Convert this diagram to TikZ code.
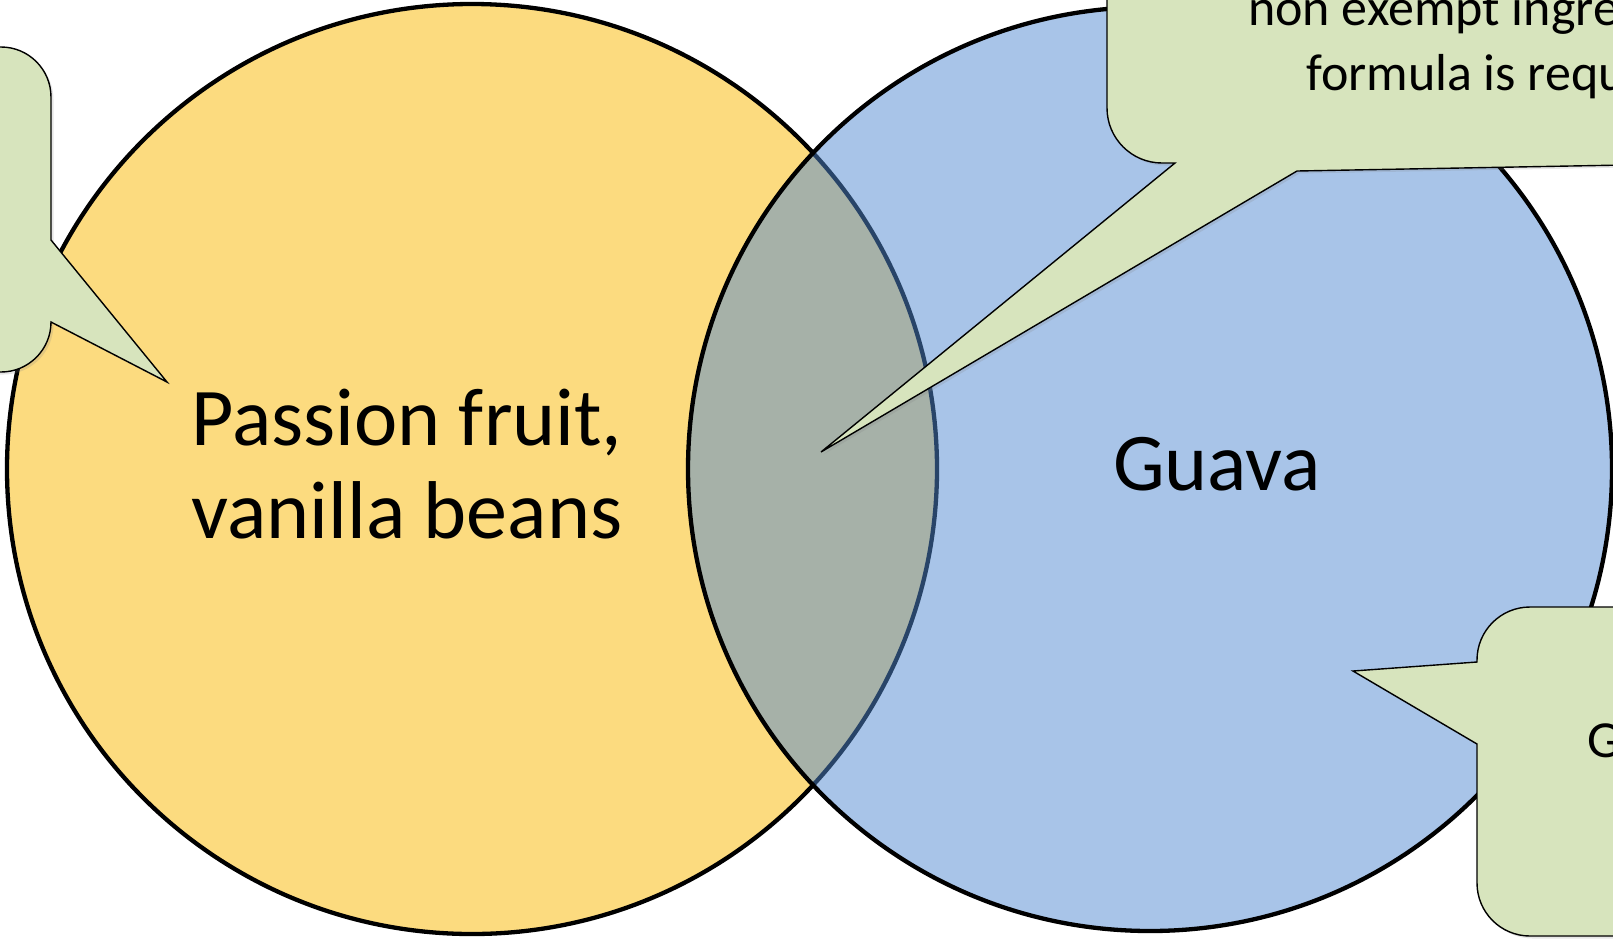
\documentclass[tikz,border=0pt]{standalone}
\usepackage{fontspec}
\setmainfont{Carlito}
\usetikzlibrary{shadows}
\definecolor{venngold}{RGB}{252,219,127}
\definecolor{vennblue}{RGB}{81,137,209}
\definecolor{notegreen}{RGB}{215,228,189}
\tikzset{
  ring/.style={draw=black,line width=4.3pt},
  bubble/.style={draw=black,line width=1.4pt,fill=notegreen,
    drop shadow={opacity=0.2,shadow xshift=2.5pt,shadow yshift=-2.5pt}},
  bigtext/.style={font=\fontsize{82}{93}\selectfont,inner sep=0pt},
  smalltext/.style={font=\fontsize{52}{64}\selectfont,inner sep=0pt}
}
\begin{document}
\begin{tikzpicture}[x=1pt,y=-1pt]
\useasboundingbox (0,0) rectangle (1613,938);
\clip (0,0) rectangle (1613,938);
\coordinate (L) at (472,469);
\coordinate (R) at (1150,469);
\draw[ring,fill=venngold] (L) circle (465);
\draw[ring,fill=vennblue,fill opacity=0.5] (R) circle (462);
\node[bigtext,align=center,anchor=base] (P) at (407,538) {Passion fruit,\\vanilla beans};
\node[bigtext,anchor=base] (G) at (1217,490) {Guava};
\draw[bubble] (-60,47) -- (1,47) .. controls (28.6,47) and (51,69.4) .. (51,97) -- (51,240) -- (167,382) -- (51,322)
  .. controls (51,349.6) and (28.6,372) .. (1,372) -- (-60,372) -- cycle;
\draw[bubble] (1107,-60) -- (1107,108) .. controls (1107,138.4) and (1131.6,163) .. (1162,163) -- (1175,163) -- (821,452)
  -- (1297,171) -- (1680,164) -- (1680,-60) -- cycle;
\node[smalltext,anchor=base west] (N1) at (1248,25) {non exempt ingre};
\node[smalltext,anchor=base west] (N2) at (1306,90) {formula is requ};
\draw[bubble] (1680,607) -- (1530,607) .. controls (1500.7,607) and (1477,630.7) .. (1477,660) -- (1477,662) -- (1353,671)
  -- (1477,744) -- (1477,883) .. controls (1477,912.3) and (1500.7,936) .. (1530,936) -- (1680,936) -- cycle;
\node[smalltext,anchor=base west] (N3) at (1587,757) {G};
\end{tikzpicture}
\end{document}
